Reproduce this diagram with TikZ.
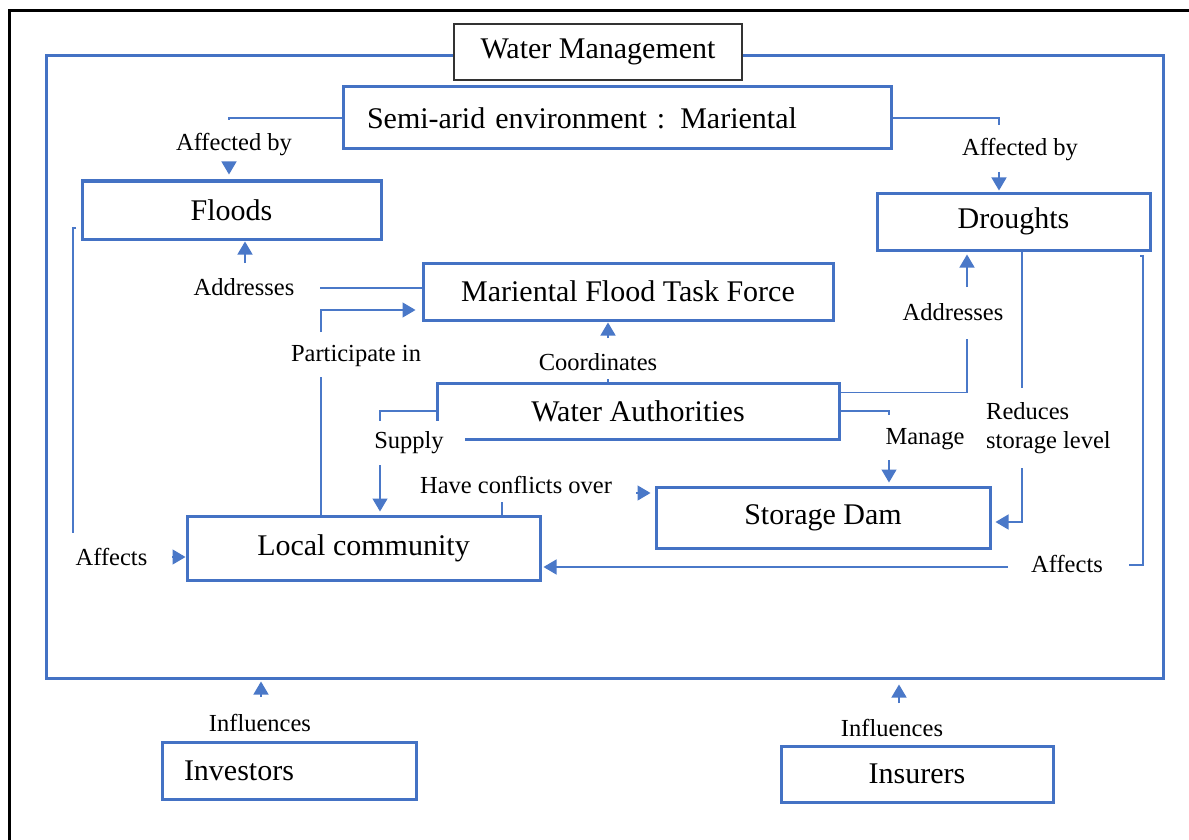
\documentclass[tikz,border=0pt]{standalone}
\usepackage{fontspec}
\setmainfont{Liberation Serif}
\usetikzlibrary{arrows.meta,calc}
\definecolor{boxblue}{HTML}{4472C4}
\definecolor{linkblue}{HTML}{4A78C8}
\begin{document}
\begin{tikzpicture}[x=1pt,y=-1pt,
  box/.style={draw=boxblue, line width=3pt, fill=white, inner sep=0pt,
    font=\fontsize{30}{34}\selectfont, text=black},
  lbl/.style={inner sep=0pt, font=\fontsize{24.5}{29}\selectfont, text=black},
  link/.style={draw=linkblue, line width=1.4pt},
  tip/.style={link, -{Triangle[length=13pt,width=15pt]}},
]
\useasboundingbox (0,0) rectangle (1189,840);
\fill[white] (0,0) rectangle (1189,840);
\clip (0,0) rectangle (1189,840);

% page frame
\draw[line width=3pt] (1200,11) -- (9.5,11) -- (9.5,850);

% water management area and its title
\node[draw=boxblue, line width=3pt, minimum width=1117pt, minimum height=622pt, inner sep=0pt] (area) at (604.5,367) {};
\node[draw=black!80, line width=1.5pt, fill=white, minimum width=288pt, minimum height=56pt,
  inner sep=0pt, font=\fontsize{30}{34}\selectfont] (wm) at (598,52) {Water Management};

% boxes
\node[box, minimum width=548pt, minimum height=62pt, text width=500pt, align=left, inner xsep=24pt]
  (semi) at (617,118) {Semi-arid environment : Mariental};
\node[box, minimum width=299pt, minimum height=58pt] (floods) at (231.5,210) {Floods};
\node[box, minimum width=273pt, minimum height=57pt] (drought) at (1013.5,221.5) {Droughts};
\node[box, minimum width=410pt, minimum height=57pt] (mftf) at (628,291.5) {Mariental Flood Task Force};
\node[box, minimum width=402pt, minimum height=56pt] (wa) at (638,411) {Water Authorities};
\node[box, minimum width=334pt, minimum height=61pt] (dam) at (823,517.5) {Storage Dam};
\node[box, minimum width=353pt, minimum height=64pt] (lc) at (363.5,548) {Local community};
\node[box, minimum width=254pt, minimum height=57pt, text width=210pt, align=left, inner xsep=22pt]
  (inv) at (289,770.5) {Investors};
\node[box, minimum width=272pt, minimum height=56pt] (ins) at (917,774) {Insurers};

% connector labels
\node[lbl] (affF) at (234,145) {Affected by};
\node[lbl] (affD) at (1020,150) {Affected by};
\node[lbl] (addF) at (244,287) {Addresses};
\node[lbl] (addD) at (953,312) {Addresses};
\node[lbl] (part) at (356,356) {Participate in};
\node[lbl] (coord) at (598,362) {Coordinates};
\node[lbl, fill=white, minimum width=112pt, minimum height=44pt] (sup) at (409,443) {Supply};
\node[lbl] (conf) at (516,485) {Have conflicts over};
\node[lbl] (man) at (925,439) {Manage};
\node[lbl, align=left, anchor=west] (red) at (986,428) {Reduces\\storage level};
\node[lbl] (affL) at (111.5,557) {Affects};
\node[lbl] (affR) at (1067,564) {Affects};
\node[lbl] (infI) at (260,723) {Influences};
\node[lbl] (infS) at (892,728) {Influences};

% bend points and free ends
\coordinate (f1) at (229,120);   \coordinate (f2) at (229,162);
\coordinate (d1) at (999,125);   \coordinate (d2) at (999,172);
\coordinate (fl1) at (76,228);   \coordinate (fl2) at (73,533);   \coordinate (l1) at (172,557);
\coordinate (r1) at (1140,256);  \coordinate (rA) at (1143,256);  \coordinate (rB) at (1143,565);
\coordinate (r2) at (1129,565);  \coordinate (r3) at (1008,567);
\coordinate (a1) at (320,288);   \coordinate (a2) at (245,263);
\coordinate (p1) at (321,377);   \coordinate (p2) at (321,332);   \coordinate (p3) at (321,310);
\coordinate (c1) at (608,379);   \coordinate (c2) at (608,338);
\coordinate (s1) at (380,421);   \coordinate (s2) at (380,465);
\coordinate (h1) at (502,502);   \coordinate (h2) at (636,493);
\coordinate (m1) at (889,415);   \coordinate (m2) at (889,460);
\coordinate (q0) at ($(wa.north east)+(0,11)$); \coordinate (q1) at (967,339); \coordinate (q2) at (967,287);
\coordinate (u1) at (1022,388);  \coordinate (u2) at (1022,468);  \coordinate (u3) at (1022,522);
\coordinate (i1) at (261,697);   \coordinate (i2) at (899,703);

% semi-arid environment affected by floods and droughts
\draw[link] (semi.west) -| (f1);
\draw[tip, shorten >=5pt] (f2) -- (f2 |- floods.north);
\draw[link] (semi.east) -| (d1);
\draw[tip, shorten >=1pt] (d2) -- (d2 |- drought.north);

% floods and droughts affect the local community
\draw[link] (fl1) -| (fl2);
\draw[tip] (l1) -- (l1 -| lc.west);
\draw[link] (r1) -- (rA) -- (rB) -- (r2);
\draw[tip, shorten >=2pt] (r3) -- (r3 -| lc.east);

% task force addresses floods
\draw[link] (a1) -- (a1 -| mftf.west);
\draw[tip, shorten >=1pt] (a2) -- (a2 |- floods.south);

% community participates in the task force
\draw[link] (p1 |- lc.north) -- (p1);
\draw[tip, shorten >=6pt] (p2) -- (p3) -- (p3 -| mftf.west);

% water authorities coordinate the task force
\draw[link] (c1) -- (c1 |- wa.north);
\draw[tip, shorten >=1pt] (c2) -- (c2 |- mftf.south);

% water authorities supply the community
\draw[link] (wa.west) -| (s1);
\draw[tip, shorten >=3pt] (s2) -- (s2 |- lc.north);

% conflicts over the storage dam
\draw[link] (h1 |- lc.north) -- (h1);
\draw[tip, shorten >=4pt] (h2) -- (h2 -| dam.west);

% water authorities manage the dam
\draw[link] (wa.east) -| (m1);
\draw[tip, shorten >=3pt] (m2) -- (m2 |- dam.north);

% water authorities address droughts
\draw[link] (q0) -| (q1);
\draw[tip, shorten >=3pt] (q2) -- (q2 |- drought.south);

% droughts reduce the storage level
\draw[link] (u1 |- drought.south) -- (u1);
\draw[tip, shorten >=4pt] (u2) -- (u3) -- (u3 -| dam.east);

% outside influences
\draw[tip, shorten >=2pt] (i1) -- (i1 |- area.south);
\draw[tip, shorten >=5pt] (i2) -- (i2 |- area.south);
\end{tikzpicture}
\end{document}
